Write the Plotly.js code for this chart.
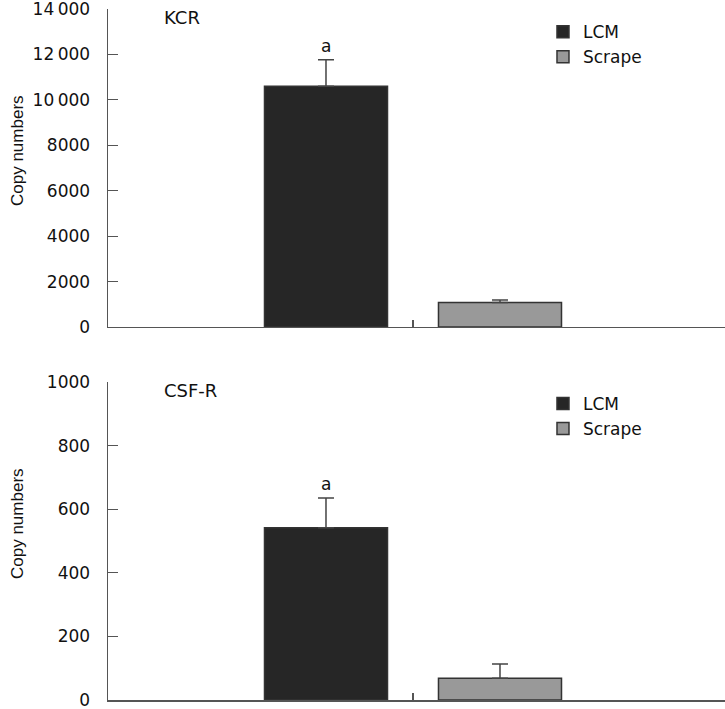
<!DOCTYPE html>
<html>
<head>
<meta charset="utf-8">
<script src="https://cdn.plot.ly/plotly-3.0.1.min.js"></script>
<style>html,body{margin:0;padding:0;background:#fff;}#chart{width:725px;height:709px;}</style>
</head>
<body>
<div id="chart"></div>
<script>
// ---- data ----
const category = [""];
const groups = ["LCM", "Scrape"];
const kcrValues = [10600, 1080];
const kcrErrors = [1170, 110];
const csfValues = [542, 68];
const csfErrors = [93, 45];
const panelLabels = ["KCR", "CSF-R"];
const yTitle = "Copy numbers";
const sigMark = "a";
const kcrTicks = [0, 2000, 4000, 6000, 8000, 10000, 12000, 14000];
const csfTicks = [0, 200, 400, 600, 800, 1000];

const colors = ["#262626", "#999999"];
const fontMain = "DejaVu Sans, Verdana, sans-serif";
const fontTitle = "Liberation Sans Narrow, Arial Narrow, Liberation Sans, sans-serif";
const bargap = 0.4295;
const xRange = [-0.5, 0.5115];

function makeTraces(vals, errs, xa, ya, legendName) {
  return groups.map((g, i) => ({
    type: "bar",
    name: g,
    x: category,
    y: [vals[i]],
    xaxis: xa, yaxis: ya,
    legend: legendName,
    marker: {color: colors[i], line: {color: "#333333", width: 1.5}},
    error_y: {type: "data", symmetric: false, array: [errs[i]], arrayminus: [0],
              color: "#444444", thickness: 1.5, width: 8}
  }));
}

const data = [
  ...makeTraces(kcrValues, kcrErrors, "x", "y", "legend"),
  ...makeTraces(csfValues, csfErrors, "x2", "y2", "legend2")
];

const xBase = {
  type: "category", showgrid: false, zeroline: false, showline: true,
  linecolor: "#555555", linewidth: 1.5, ticks: "inside", ticklen: 7,
  tickcolor: "#555555", tickwidth: 1.2, showticklabels: false, range: xRange
};
const yBase = {
  showgrid: false, zeroline: false, showline: true, linecolor: "#555555",
  linewidth: 1.5, ticks: "inside", ticklen: 10, tickcolor: "#555555", tickwidth: 1.2,
  tickfont: {family: fontMain, size: 17, color: "#111"}, exponentformat: "none",
  ticklabelstandoff: 13, ticklabeloverflow: "allow"
};

const lcmOffset = -(1 - bargap) / 4;

const layout = {
  width: 725, height: 709,
  margin: {l: 108, r: 0, t: 9, b: 9},
  paper_bgcolor: "#fff", plot_bgcolor: "#fff",
  barmode: "group", bargap: bargap, bargroupgap: 0.293,
  separators: ".\u2009",
  font: {family: fontMain, color: "#111"},
  xaxis: Object.assign({}, xBase, {domain: [0, 1], anchor: "y"}),
  yaxis: Object.assign({}, yBase, {domain: [0.5398, 1], range: [0, 14000], tickvals: kcrTicks, anchor: "x"}),
  xaxis2: Object.assign({}, xBase, {domain: [0, 1], anchor: "y2"}),
  yaxis2: Object.assign({}, yBase, {domain: [0, 0.4602], range: [0, 1000], tickvals: csfTicks, anchor: "x2"}),
  legend: {x: 0.705, y: 0.9925, xanchor: "left", yanchor: "top", bgcolor: "rgba(0,0,0,0)",
           font: {family: fontMain, size: 17, color: "#111"}, tracegroupgap: 0},
  legend2: {x: 0.705, y: 0.4545, xanchor: "left", yanchor: "top", bgcolor: "rgba(0,0,0,0)",
           font: {family: fontMain, size: 17, color: "#111"}, tracegroupgap: 0},
  annotations: [
    {xref: "paper", yref: "paper", x: 0.12, y: 0.988, text: panelLabels[0], showarrow: false,
     font: {family: fontMain, size: 18, color: "#111"}, xanchor: "center", yanchor: "middle"},
    {xref: "paper", yref: "paper", x: 0.134, y: 0.4486, text: panelLabels[1], showarrow: false,
     font: {family: fontMain, size: 18, color: "#111"}, xanchor: "center", yanchor: "middle"},
    {xref: "paper", yref: "paper", x: -0.1475, y: (700 - 150) / 691, text: yTitle, showarrow: false,
     textangle: -90, font: {family: fontTitle, size: 17, color: "#111"}, xanchor: "center", yanchor: "middle"},
    {xref: "paper", yref: "paper", x: -0.1475, y: (700 - 523) / 691, text: yTitle, showarrow: false,
     textangle: -90, font: {family: fontTitle, size: 17, color: "#111"}, xanchor: "center", yanchor: "middle"},
    {xref: "x", yref: "y", x: lcmOffset, y: kcrValues[0] + kcrErrors[0], text: sigMark, showarrow: false,
     font: {family: fontMain, size: 17, color: "#111"}, xanchor: "center", yanchor: "bottom", yshift: 2},
    {xref: "x2", yref: "y2", x: lcmOffset, y: csfValues[0] + csfErrors[0], text: sigMark, showarrow: false,
     font: {family: fontMain, size: 17, color: "#111"}, xanchor: "center", yanchor: "bottom", yshift: 2}
  ]
};

Plotly.newPlot("chart", data, layout, {displayModeBar: false, staticPlot: true});
</script>
</body>
</html>
